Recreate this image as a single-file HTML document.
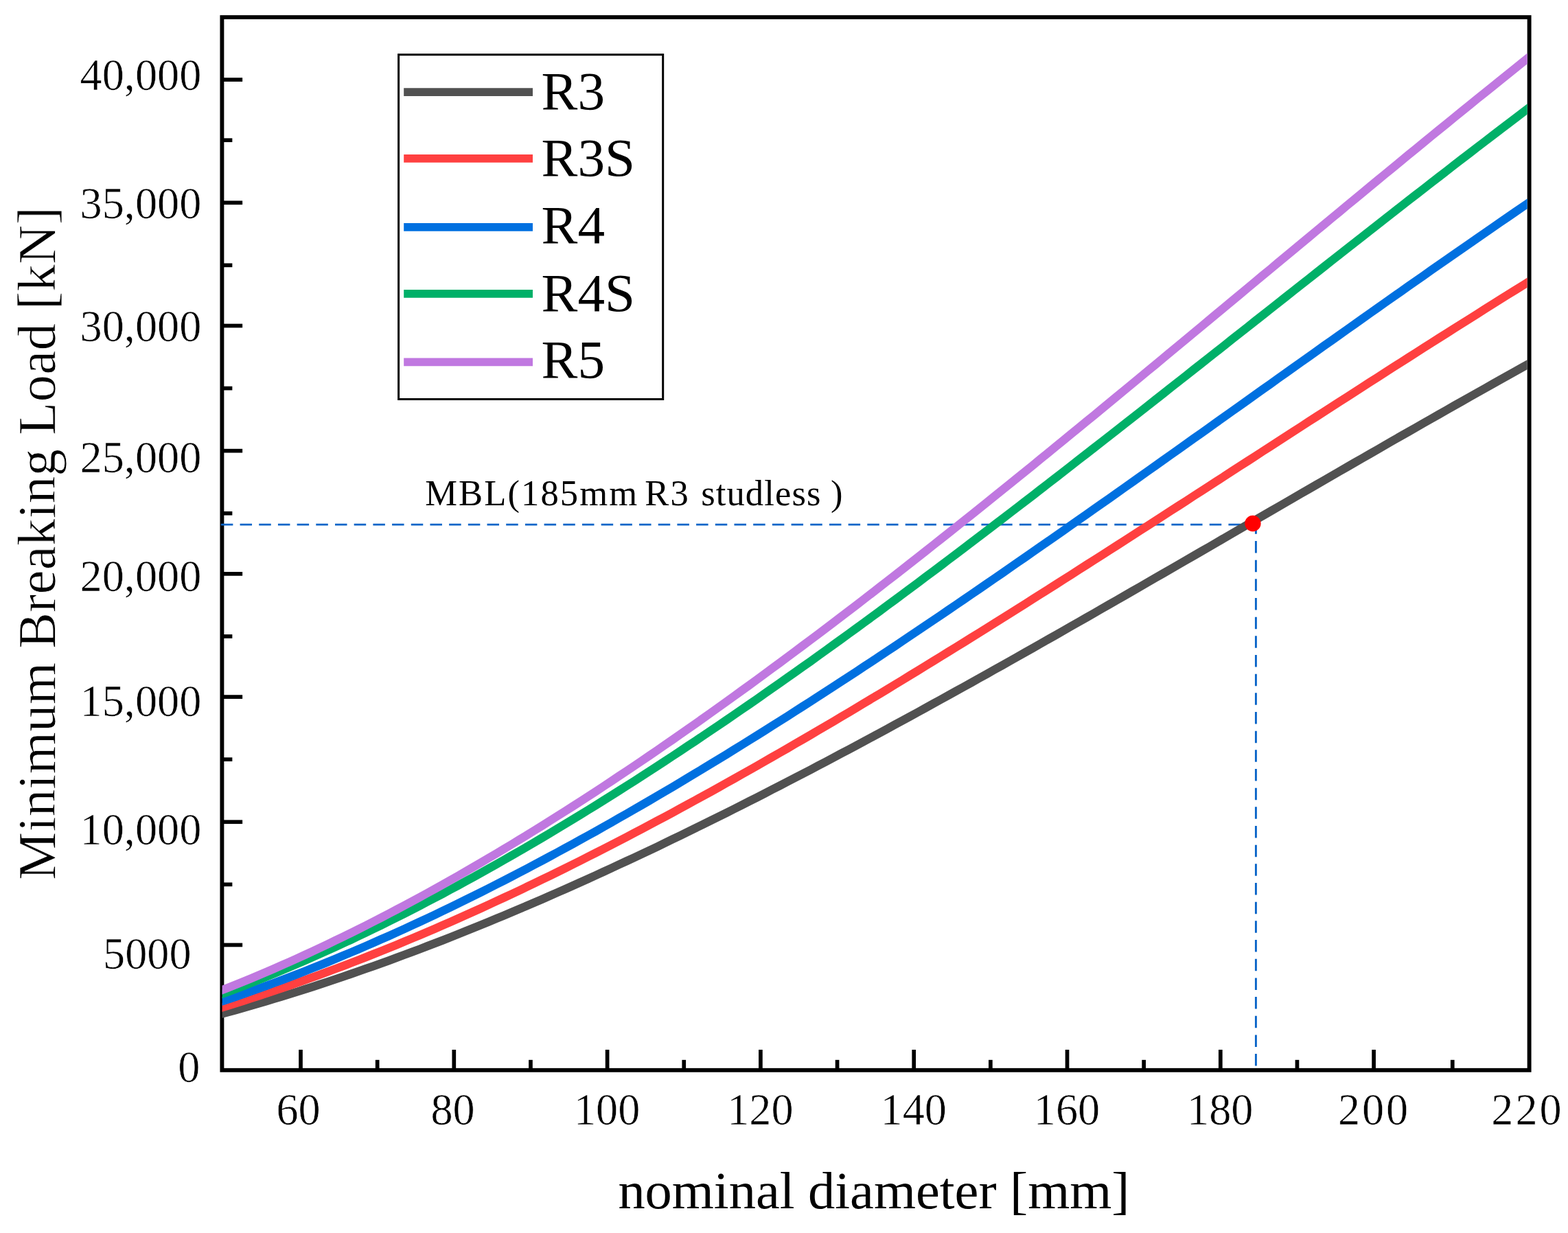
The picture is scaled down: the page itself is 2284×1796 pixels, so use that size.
<!DOCTYPE html>
<html lang="en">
<head>
<meta charset="utf-8">
<title>Minimum Breaking Load vs nominal diameter</title>
<style>
html,body{margin:0;padding:0;background:#fff;}
body{width:2284px;height:1796px;overflow:hidden;}
svg{display:block;}
text{font-family:"Liberation Serif", serif;fill:#000;}
.tick{font-size:66.4px;stroke:#fff;stroke-width:0.6px;stroke-linejoin:round;}
.title{font-size:79px;}
.xt{font-size:76.4px;}
.yt{stroke:#fff;stroke-width:0.8px;stroke-linejoin:round;}
.leg{font-size:79.2px;}
.ann{font-size:52.6px;}
</style>
</head>
<body>
<svg width="2284" height="1796" viewBox="0 0 2284 1796">
<rect x="0" y="0" width="2284" height="1796" fill="#ffffff"/>
<defs><clipPath id="plot"><rect x="323.6" y="25.1" width="1901.10" height="1533.70"/></clipPath></defs>
<g fill="none" stroke="#000" stroke-width="5.7">
<line x1="323.4" y1="116.05" x2="353.15" y2="116.05"/>
<line x1="323.4" y1="204.19" x2="338.35" y2="204.19"/>
<line x1="323.4" y1="295.27" x2="353.15" y2="295.27"/>
<line x1="323.4" y1="386.35" x2="338.35" y2="386.35"/>
<line x1="323.4" y1="474.49" x2="353.15" y2="474.49"/>
<line x1="323.4" y1="565.57" x2="338.35" y2="565.57"/>
<line x1="323.4" y1="656.64" x2="353.15" y2="656.64"/>
<line x1="323.4" y1="747.72" x2="338.35" y2="747.72"/>
<line x1="323.4" y1="835.86" x2="353.15" y2="835.86"/>
<line x1="323.4" y1="926.94" x2="338.35" y2="926.94"/>
<line x1="323.4" y1="1015.08" x2="353.15" y2="1015.08"/>
<line x1="323.4" y1="1106.16" x2="338.35" y2="1106.16"/>
<line x1="323.4" y1="1197.24" x2="353.15" y2="1197.24"/>
<line x1="323.4" y1="1288.31" x2="338.35" y2="1288.31"/>
<line x1="323.4" y1="1376.45" x2="353.15" y2="1376.45"/>
<line x1="323.4" y1="1467.53" x2="338.35" y2="1467.53"/>
<line x1="438.00" y1="1558.8" x2="438.00" y2="1529.05"/>
<line x1="549.65" y1="1558.8" x2="549.65" y2="1543.85"/>
<line x1="661.30" y1="1558.8" x2="661.30" y2="1529.05"/>
<line x1="772.95" y1="1558.8" x2="772.95" y2="1543.85"/>
<line x1="884.60" y1="1558.8" x2="884.60" y2="1529.05"/>
<line x1="996.25" y1="1558.8" x2="996.25" y2="1543.85"/>
<line x1="1107.90" y1="1558.8" x2="1107.90" y2="1529.05"/>
<line x1="1219.55" y1="1558.8" x2="1219.55" y2="1543.85"/>
<line x1="1331.20" y1="1558.8" x2="1331.20" y2="1529.05"/>
<line x1="1442.85" y1="1558.8" x2="1442.85" y2="1543.85"/>
<line x1="1554.50" y1="1558.8" x2="1554.50" y2="1529.05"/>
<line x1="1666.15" y1="1558.8" x2="1666.15" y2="1543.85"/>
<line x1="1777.80" y1="1558.8" x2="1777.80" y2="1529.05"/>
<line x1="1889.45" y1="1558.8" x2="1889.45" y2="1543.85"/>
<line x1="2001.10" y1="1558.8" x2="2001.10" y2="1529.05"/>
<line x1="2115.75" y1="1558.8" x2="2115.75" y2="1543.85"/>
</g>
<rect x="323.4" y="25.1" width="1904.20" height="1533.70" fill="none" stroke="#000" stroke-width="5.9"/>
<g fill="none" stroke="#0A64C8" stroke-width="2.9">
<line x1="321.86" y1="764.1" x2="1812" y2="764.1" stroke-dasharray="17.5 10.19"/>
<line x1="1829.4" y1="760.3" x2="1829.4" y2="1558.8" stroke-dasharray="17.5 10.17"/>
</g>
<g clip-path="url(#plot)" fill="none" stroke-width="12.2" stroke-linejoin="round" stroke-linecap="butt">
<polyline stroke="#515151" points="320.8,1477.4 331.9,1474.4 343.1,1471.3 354.3,1468.1 365.4,1464.9 376.6,1461.7 387.8,1458.4 398.9,1455.0 410.1,1451.6 421.3,1448.2 432.4,1444.7 443.6,1441.1 454.7,1437.6 465.9,1433.9 477.1,1430.2 488.2,1426.5 499.4,1422.7 510.6,1418.9 521.7,1415.1 532.9,1411.1 544.1,1407.2 555.2,1403.2 566.4,1399.2 577.6,1395.1 588.7,1390.9 599.9,1386.8 611.1,1382.6 622.2,1378.3 633.4,1374.0 644.6,1369.7 655.7,1365.3 666.9,1360.9 678.0,1356.4 689.2,1351.9 700.4,1347.4 711.5,1342.8 722.7,1338.2 733.9,1333.6 745.0,1328.9 756.2,1324.2 767.4,1319.4 778.5,1314.6 789.7,1309.8 800.9,1304.9 812.0,1300.0 823.2,1295.1 834.4,1290.1 845.5,1285.1 856.7,1280.1 867.9,1275.0 879.0,1269.9 890.2,1264.8 901.3,1259.6 912.5,1254.4 923.7,1249.2 934.8,1244.0 946.0,1238.7 957.2,1233.4 968.3,1228.0 979.5,1222.6 990.7,1217.2 1001.8,1211.8 1013.0,1206.3 1024.2,1200.8 1035.3,1195.3 1046.5,1189.8 1057.7,1184.2 1068.8,1178.6 1080.0,1173.0 1091.2,1167.3 1102.3,1161.7 1113.5,1156.0 1124.6,1150.2 1135.8,1144.5 1147.0,1138.7 1158.1,1132.9 1169.3,1127.1 1180.5,1121.3 1191.6,1115.4 1202.8,1109.6 1214.0,1103.7 1225.1,1097.7 1236.3,1091.8 1247.5,1085.8 1258.6,1079.8 1269.8,1073.8 1281.0,1067.8 1292.1,1061.8 1303.3,1055.7 1314.5,1049.7 1325.6,1043.6 1336.8,1037.5 1347.9,1031.3 1359.1,1025.2 1370.3,1019.0 1381.4,1012.9 1392.6,1006.7 1403.8,1000.5 1414.9,994.3 1426.1,988.0 1437.3,981.8 1448.4,975.5 1459.6,969.3 1470.8,963.0 1481.9,956.7 1493.1,950.4 1504.3,944.1 1515.4,937.7 1526.6,931.4 1537.8,925.1 1548.9,918.7 1560.1,912.3 1571.2,906.0 1582.4,899.6 1593.6,893.2 1604.7,886.8 1615.9,880.4 1627.1,874.0 1638.2,867.6 1649.4,861.1 1660.6,854.7 1671.7,848.3 1682.9,841.8 1694.1,835.4 1705.2,828.9 1716.4,822.5 1727.6,816.0 1738.7,809.6 1749.9,803.1 1761.1,796.7 1772.2,790.2 1783.4,783.7 1794.5,777.3 1805.7,770.8 1816.9,764.3 1828.0,757.8 1839.2,751.4 1850.4,744.9 1861.5,738.4 1872.7,732.0 1883.9,725.5 1895.0,719.0 1906.2,712.6 1917.4,706.1 1928.5,699.7 1939.7,693.2 1950.9,686.8 1962.0,680.4 1973.2,673.9 1984.4,667.5 1995.5,661.1 2006.7,654.7 2017.8,648.2 2029.0,641.8 2040.2,635.4 2051.3,629.1 2062.5,622.7 2073.7,616.3 2084.8,610.0 2096.0,603.6 2107.2,597.3 2118.3,590.9 2129.5,584.6 2140.7,578.3 2151.8,572.0 2163.0,565.7 2174.2,559.4 2185.3,553.2 2196.5,546.9 2207.7,540.7 2218.8,534.4 2230.0,528.2"/>
<polyline stroke="#FF4040" points="320.8,1468.2 331.9,1464.8 343.1,1461.4 354.3,1457.9 365.4,1454.3 376.6,1450.7 387.8,1447.0 398.9,1443.2 410.1,1439.4 421.3,1435.6 432.4,1431.7 443.6,1427.7 454.7,1423.7 465.9,1419.7 477.1,1415.6 488.2,1411.4 499.4,1407.2 510.6,1402.9 521.7,1398.6 532.9,1394.2 544.1,1389.8 555.2,1385.4 566.4,1380.9 577.6,1376.3 588.7,1371.7 599.9,1367.0 611.1,1362.3 622.2,1357.6 633.4,1352.8 644.6,1347.9 655.7,1343.1 666.9,1338.1 678.0,1333.2 689.2,1328.1 700.4,1323.1 711.5,1318.0 722.7,1312.8 733.9,1307.6 745.0,1302.4 756.2,1297.2 767.4,1291.8 778.5,1286.5 789.7,1281.1 800.9,1275.7 812.0,1270.2 823.2,1264.7 834.4,1259.1 845.5,1253.6 856.7,1247.9 867.9,1242.3 879.0,1236.6 890.2,1230.8 901.3,1225.1 912.5,1219.3 923.7,1213.4 934.8,1207.6 946.0,1201.7 957.2,1195.7 968.3,1189.8 979.5,1183.8 990.7,1177.7 1001.8,1171.6 1013.0,1165.5 1024.2,1159.4 1035.3,1153.3 1046.5,1147.1 1057.7,1140.8 1068.8,1134.6 1080.0,1128.3 1091.2,1122.0 1102.3,1115.7 1113.5,1109.3 1124.6,1102.9 1135.8,1096.5 1147.0,1090.1 1158.1,1083.6 1169.3,1077.1 1180.5,1070.6 1191.6,1064.1 1202.8,1057.5 1214.0,1050.9 1225.1,1044.3 1236.3,1037.7 1247.5,1031.0 1258.6,1024.3 1269.8,1017.6 1281.0,1010.9 1292.1,1004.2 1303.3,997.4 1314.5,990.6 1325.6,983.8 1336.8,977.0 1347.9,970.1 1359.1,963.3 1370.3,956.4 1381.4,949.5 1392.6,942.6 1403.8,935.7 1414.9,928.8 1426.1,921.8 1437.3,914.8 1448.4,907.8 1459.6,900.8 1470.8,893.8 1481.9,886.8 1493.1,879.8 1504.3,872.7 1515.4,865.7 1526.6,858.6 1537.8,851.5 1548.9,844.4 1560.1,837.3 1571.2,830.2 1582.4,823.0 1593.6,815.9 1604.7,808.8 1615.9,801.6 1627.1,794.5 1638.2,787.3 1649.4,780.1 1660.6,772.9 1671.7,765.8 1682.9,758.6 1694.1,751.4 1705.2,744.2 1716.4,737.0 1727.6,729.8 1738.7,722.5 1749.9,715.3 1761.1,708.1 1772.2,700.9 1783.4,693.7 1794.5,686.4 1805.7,679.2 1816.9,672.0 1828.0,664.8 1839.2,657.5 1850.4,650.3 1861.5,643.1 1872.7,635.9 1883.9,628.7 1895.0,621.5 1906.2,614.2 1917.4,607.0 1928.5,599.8 1939.7,592.6 1950.9,585.4 1962.0,578.3 1973.2,571.1 1984.4,563.9 1995.5,556.7 2006.7,549.6 2017.8,542.4 2029.0,535.2 2040.2,528.1 2051.3,521.0 2062.5,513.9 2073.7,506.7 2084.8,499.6 2096.0,492.5 2107.2,485.5 2118.3,478.4 2129.5,471.3 2140.7,464.3 2151.8,457.3 2163.0,450.2 2174.2,443.2 2185.3,436.2 2196.5,429.2 2207.7,422.3 2218.8,415.3 2230.0,408.4"/>
<polyline stroke="#0070E0" points="320.8,1459.4 331.9,1455.7 343.1,1451.9 354.3,1448.0 365.4,1444.1 376.6,1440.1 387.8,1436.0 398.9,1431.9 410.1,1427.7 421.3,1423.5 432.4,1419.2 443.6,1414.9 454.7,1410.4 465.9,1406.0 477.1,1401.5 488.2,1396.9 499.4,1392.2 510.6,1387.5 521.7,1382.8 532.9,1378.0 544.1,1373.1 555.2,1368.2 566.4,1363.3 577.6,1358.2 588.7,1353.2 599.9,1348.0 611.1,1342.9 622.2,1337.7 633.4,1332.4 644.6,1327.1 655.7,1321.7 666.9,1316.3 678.0,1310.8 689.2,1305.3 700.4,1299.7 711.5,1294.1 722.7,1288.4 733.9,1282.7 745.0,1277.0 756.2,1271.2 767.4,1265.3 778.5,1259.4 789.7,1253.5 800.9,1247.5 812.0,1241.5 823.2,1235.4 834.4,1229.3 845.5,1223.2 856.7,1217.0 867.9,1210.8 879.0,1204.5 890.2,1198.2 901.3,1191.8 912.5,1185.5 923.7,1179.0 934.8,1172.6 946.0,1166.1 957.2,1159.5 968.3,1153.0 979.5,1146.4 990.7,1139.7 1001.8,1133.0 1013.0,1126.3 1024.2,1119.6 1035.3,1112.8 1046.5,1106.0 1057.7,1099.2 1068.8,1092.3 1080.0,1085.4 1091.2,1078.4 1102.3,1071.5 1113.5,1064.5 1124.6,1057.4 1135.8,1050.4 1147.0,1043.3 1158.1,1036.2 1169.3,1029.0 1180.5,1021.9 1191.6,1014.7 1202.8,1007.4 1214.0,1000.2 1225.1,992.9 1236.3,985.6 1247.5,978.3 1258.6,970.9 1269.8,963.6 1281.0,956.2 1292.1,948.7 1303.3,941.3 1314.5,933.8 1325.6,926.3 1336.8,918.8 1347.9,911.3 1359.1,903.8 1370.3,896.2 1381.4,888.6 1392.6,881.0 1403.8,873.4 1414.9,865.8 1426.1,858.1 1437.3,850.4 1448.4,842.8 1459.6,835.1 1470.8,827.3 1481.9,819.6 1493.1,811.9 1504.3,804.1 1515.4,796.3 1526.6,788.5 1537.8,780.7 1548.9,772.9 1560.1,765.1 1571.2,757.3 1582.4,749.4 1593.6,741.6 1604.7,733.7 1615.9,725.9 1627.1,718.0 1638.2,710.1 1649.4,702.2 1660.6,694.3 1671.7,686.4 1682.9,678.5 1694.1,670.6 1705.2,662.6 1716.4,654.7 1727.6,646.8 1738.7,638.8 1749.9,630.9 1761.1,623.0 1772.2,615.0 1783.4,607.1 1794.5,599.1 1805.7,591.2 1816.9,583.2 1828.0,575.3 1839.2,567.3 1850.4,559.4 1861.5,551.4 1872.7,543.5 1883.9,535.6 1895.0,527.6 1906.2,519.7 1917.4,511.8 1928.5,503.8 1939.7,495.9 1950.9,488.0 1962.0,480.1 1973.2,472.2 1984.4,464.3 1995.5,456.4 2006.7,448.5 2017.8,440.6 2029.0,432.8 2040.2,424.9 2051.3,417.0 2062.5,409.2 2073.7,401.4 2084.8,393.6 2096.0,385.8 2107.2,378.0 2118.3,370.2 2129.5,362.4 2140.7,354.7 2151.8,346.9 2163.0,339.2 2174.2,331.5 2185.3,323.8 2196.5,316.1 2207.7,308.4 2218.8,300.8 2230.0,293.2"/>
<polyline stroke="#00B068" points="320.8,1448.8 331.9,1444.7 343.1,1440.5 354.3,1436.2 365.4,1431.8 376.6,1427.4 387.8,1422.9 398.9,1418.3 410.1,1413.7 421.3,1409.0 432.4,1404.2 443.6,1399.4 454.7,1394.5 465.9,1389.5 477.1,1384.5 488.2,1379.4 499.4,1374.3 510.6,1369.1 521.7,1363.8 532.9,1358.5 544.1,1353.1 555.2,1347.7 566.4,1342.1 577.6,1336.6 588.7,1331.0 599.9,1325.3 611.1,1319.5 622.2,1313.7 633.4,1307.9 644.6,1302.0 655.7,1296.0 666.9,1290.0 678.0,1283.9 689.2,1277.8 700.4,1271.6 711.5,1265.4 722.7,1259.1 733.9,1252.8 745.0,1246.4 756.2,1240.0 767.4,1233.5 778.5,1226.9 789.7,1220.4 800.9,1213.7 812.0,1207.0 823.2,1200.3 834.4,1193.5 845.5,1186.7 856.7,1179.9 867.9,1173.0 879.0,1166.0 890.2,1159.0 901.3,1152.0 912.5,1144.9 923.7,1137.8 934.8,1130.6 946.0,1123.4 957.2,1116.1 968.3,1108.8 979.5,1101.5 990.7,1094.1 1001.8,1086.7 1013.0,1079.3 1024.2,1071.8 1035.3,1064.3 1046.5,1056.7 1057.7,1049.1 1068.8,1041.5 1080.0,1033.8 1091.2,1026.1 1102.3,1018.4 1113.5,1010.6 1124.6,1002.8 1135.8,995.0 1147.0,987.1 1158.1,979.2 1169.3,971.3 1180.5,963.4 1191.6,955.4 1202.8,947.4 1214.0,939.3 1225.1,931.2 1236.3,923.1 1247.5,915.0 1258.6,906.9 1269.8,898.7 1281.0,890.5 1292.1,882.2 1303.3,874.0 1314.5,865.7 1325.6,857.4 1336.8,849.1 1347.9,840.7 1359.1,832.3 1370.3,824.0 1381.4,815.5 1392.6,807.1 1403.8,798.7 1414.9,790.2 1426.1,781.7 1437.3,773.2 1448.4,764.7 1459.6,756.1 1470.8,747.5 1481.9,739.0 1493.1,730.4 1504.3,721.8 1515.4,713.1 1526.6,704.5 1537.8,695.9 1548.9,687.2 1560.1,678.5 1571.2,669.8 1582.4,661.1 1593.6,652.4 1604.7,643.7 1615.9,635.0 1627.1,626.2 1638.2,617.5 1649.4,608.7 1660.6,600.0 1671.7,591.2 1682.9,582.4 1694.1,573.6 1705.2,564.8 1716.4,556.0 1727.6,547.2 1738.7,538.4 1749.9,529.6 1761.1,520.8 1772.2,512.0 1783.4,503.2 1794.5,494.3 1805.7,485.5 1816.9,476.7 1828.0,467.9 1839.2,459.1 1850.4,450.3 1861.5,441.4 1872.7,432.6 1883.9,423.8 1895.0,415.0 1906.2,406.2 1917.4,397.4 1928.5,388.6 1939.7,379.8 1950.9,371.0 1962.0,362.3 1973.2,353.5 1984.4,344.7 1995.5,336.0 2006.7,327.2 2017.8,318.5 2029.0,309.8 2040.2,301.0 2051.3,292.3 2062.5,283.6 2073.7,275.0 2084.8,266.3 2096.0,257.6 2107.2,249.0 2118.3,240.3 2129.5,231.7 2140.7,223.1 2151.8,214.5 2163.0,206.0 2174.2,197.4 2185.3,188.9 2196.5,180.3 2207.7,171.8 2218.8,163.4 2230.0,154.9"/>
<polyline stroke="#C078E0" points="320.8,1443.2 331.9,1438.8 343.1,1434.4 354.3,1429.9 365.4,1425.3 376.6,1420.6 387.8,1415.9 398.9,1411.1 410.1,1406.2 421.3,1401.2 432.4,1396.2 443.6,1391.1 454.7,1386.0 465.9,1380.8 477.1,1375.5 488.2,1370.1 499.4,1364.7 510.6,1359.2 521.7,1353.7 532.9,1348.1 544.1,1342.4 555.2,1336.7 566.4,1330.9 577.6,1325.0 588.7,1319.1 599.9,1313.1 611.1,1307.1 622.2,1301.0 633.4,1294.8 644.6,1288.6 655.7,1282.3 666.9,1276.0 678.0,1269.6 689.2,1263.1 700.4,1256.6 711.5,1250.1 722.7,1243.5 733.9,1236.8 745.0,1230.1 756.2,1223.3 767.4,1216.5 778.5,1209.6 789.7,1202.7 800.9,1195.7 812.0,1188.7 823.2,1181.6 834.4,1174.5 845.5,1167.3 856.7,1160.1 867.9,1152.8 879.0,1145.5 890.2,1138.1 901.3,1130.7 912.5,1123.2 923.7,1115.7 934.8,1108.2 946.0,1100.6 957.2,1093.0 968.3,1085.3 979.5,1077.6 990.7,1069.8 1001.8,1062.0 1013.0,1054.2 1024.2,1046.3 1035.3,1038.4 1046.5,1030.4 1057.7,1022.4 1068.8,1014.4 1080.0,1006.3 1091.2,998.2 1102.3,990.1 1113.5,981.9 1124.6,973.7 1135.8,965.5 1147.0,957.2 1158.1,948.9 1169.3,940.5 1180.5,932.2 1191.6,923.8 1202.8,915.3 1214.0,906.8 1225.1,898.3 1236.3,889.8 1247.5,881.3 1258.6,872.7 1269.8,864.1 1281.0,855.4 1292.1,846.8 1303.3,838.1 1314.5,829.4 1325.6,820.6 1336.8,811.9 1347.9,803.1 1359.1,794.3 1370.3,785.4 1381.4,776.6 1392.6,767.7 1403.8,758.8 1414.9,749.9 1426.1,740.9 1437.3,732.0 1448.4,723.0 1459.6,714.0 1470.8,705.0 1481.9,696.0 1493.1,686.9 1504.3,677.9 1515.4,668.8 1526.6,659.7 1537.8,650.6 1548.9,641.5 1560.1,632.3 1571.2,623.2 1582.4,614.0 1593.6,604.9 1604.7,595.7 1615.9,586.5 1627.1,577.3 1638.2,568.1 1649.4,558.9 1660.6,549.6 1671.7,540.4 1682.9,531.2 1694.1,521.9 1705.2,512.6 1716.4,503.4 1727.6,494.1 1738.7,484.9 1749.9,475.6 1761.1,466.3 1772.2,457.0 1783.4,447.8 1794.5,438.5 1805.7,429.2 1816.9,419.9 1828.0,410.6 1839.2,401.3 1850.4,392.1 1861.5,382.8 1872.7,373.5 1883.9,364.2 1895.0,355.0 1906.2,345.7 1917.4,336.4 1928.5,327.2 1939.7,317.9 1950.9,308.7 1962.0,299.4 1973.2,290.2 1984.4,281.0 1995.5,271.8 2006.7,262.5 2017.8,253.4 2029.0,244.2 2040.2,235.0 2051.3,225.8 2062.5,216.7 2073.7,207.5 2084.8,198.4 2096.0,189.3 2107.2,180.2 2118.3,171.1 2129.5,162.0 2140.7,153.0 2151.8,143.9 2163.0,134.9 2174.2,125.9 2185.3,116.9 2196.5,107.9 2207.7,99.0 2218.8,90.1 2230.0,81.1"/>
</g>
<circle cx="1824.9" cy="762.5" r="11.7" fill="#FF0000"/>
<text class="tick" transform="translate(293.3 130.7) scale(0.968 1)" text-anchor="end">40,000</text>
<text class="tick" transform="translate(293.3 317.7) scale(0.968 1)" text-anchor="end">35,000</text>
<text class="tick" transform="translate(293.3 496.6) scale(0.968 1)" text-anchor="end">30,000</text>
<text class="tick" transform="translate(293.3 687.6) scale(0.968 1)" text-anchor="end">25,000</text>
<text class="tick" transform="translate(293.3 861.3) scale(0.968 1)" text-anchor="end">20,000</text>
<text class="tick" transform="translate(293.3 1043.2) scale(0.968 1)" text-anchor="end">15,000</text>
<text class="tick" transform="translate(293.3 1230.1) scale(0.968 1)" text-anchor="end">10,000</text>
<text class="tick" transform="translate(278.6 1410.9) scale(0.968 1)" text-anchor="end">5000</text>
<text class="tick" transform="translate(291.3 1575.9) scale(0.968 1)" text-anchor="end">0</text>
<text class="tick" transform="translate(434.5 1638.2) scale(0.968 1)" text-anchor="middle">60</text>
<text class="tick" transform="translate(659.6 1638.2) scale(0.968 1)" text-anchor="middle">80</text>
<text class="tick" transform="translate(884.1 1638.2) scale(0.968 1)" text-anchor="middle">100</text>
<text class="tick" transform="translate(1107.4 1638.2) scale(0.968 1)" text-anchor="middle">120</text>
<text class="tick" transform="translate(1330.7 1638.2) scale(0.968 1)" text-anchor="middle">140</text>
<text class="tick" transform="translate(1554.0 1638.2) scale(0.968 1)" text-anchor="middle">160</text>
<text class="tick" transform="translate(1777.3 1638.2) scale(0.968 1)" text-anchor="middle">180</text>
<text class="tick" transform="translate(2001.6 1638.2) scale(0.968 1)" text-anchor="middle" letter-spacing="3.0">200</text>
<text class="tick" transform="translate(2224.9 1638.2) scale(0.968 1)" text-anchor="middle" letter-spacing="3.0">220</text>
<text class="title xt" transform="translate(1272.9 1760.4) scale(1.027 1)" text-anchor="middle">nominal diameter [mm]</text>
<text class="title yt" transform="translate(79.6 791.5) rotate(-90)" text-anchor="middle" letter-spacing="0.17">Minimum Breaking Load [kN]</text>
<text class="ann" y="736.0"><tspan x="619.2" letter-spacing="2.1">MBL(185mm </tspan><tspan x="939.3" letter-spacing="2.0">R3 </tspan><tspan x="1021.2" letter-spacing="1.1">studless </tspan><tspan x="1209.9">)</tspan></text>
<rect x="580.60" y="79.60" width="385.10" height="501.90" fill="#fff" stroke="#000" stroke-width="3.0"/>
<line x1="588.2" y1="134.1" x2="776" y2="134.1" stroke="#515151" stroke-width="11.8"/>
<text class="leg" x="788.6" y="159.1">R3</text>
<line x1="588.2" y1="230.9" x2="776" y2="230.9" stroke="#FF4040" stroke-width="11.8"/>
<text class="leg" x="788.6" y="256.4">R3S</text>
<line x1="588.2" y1="330.8" x2="776" y2="330.8" stroke="#0070E0" stroke-width="11.8"/>
<text class="leg" x="788.6" y="353.7">R4</text>
<line x1="588.2" y1="427.9" x2="776" y2="427.9" stroke="#00B068" stroke-width="11.8"/>
<text class="leg" x="788.6" y="453.4">R4S</text>
<line x1="588.2" y1="527.4" x2="776" y2="527.4" stroke="#C078E0" stroke-width="11.8"/>
<text class="leg" x="788.6" y="549.6">R5</text>
</svg>
</body>
</html>
